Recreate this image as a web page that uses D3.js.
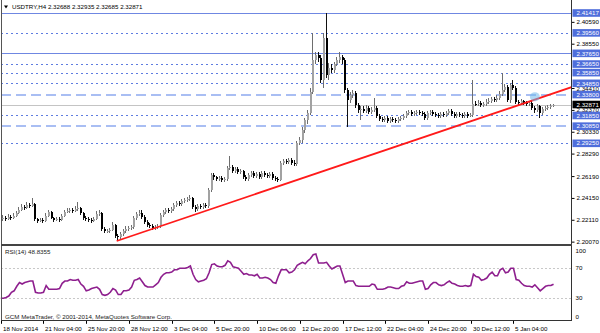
<!DOCTYPE html>
<html>
<head>
<meta charset="utf-8">
<script src="https://cdn.jsdelivr.net/npm/d3@7"></script>
<style>
  body { margin: 0; background: #fff; }
  svg { display: block; }
  text { font-family: "Liberation Sans", Arial, sans-serif; font-size: 6.2px; fill: #000; }
</style>
</head>
<body>
<div id="chart"></div>
<script>
// USDTRY H4 bars (open of each bar = previous close)
const symbolTitle = "USDTRY,H4 2.32688 2.32935 2.32685 2.32871";
const firstOpen = 2.2208;
const closes = [
  2.2218,2.2227,2.2218,2.2236,2.2227,2.2246,2.2274,2.2302,2.2330,2.2320,
  2.2348,2.2339,2.2358,2.2218,2.2199,2.2208,2.2199,2.2246,2.2283,2.2227,
  2.2208,2.2218,2.2208,2.2246,2.2283,2.2292,2.2302,2.2292,2.2311,2.2320,
  2.2274,2.2227,2.2218,2.2208,2.2199,2.2218,2.2264,2.2274,2.2124,2.2106,
  2.2106,2.2115,2.2162,2.2059,2.2049,2.2078,2.2106,2.2124,2.2134,2.2143,
  2.2227,2.2264,2.2274,2.2236,2.2190,2.2162,2.2152,2.2134,2.2143,2.2152,
  2.2255,2.2283,2.2302,2.2292,2.2311,2.2348,2.2367,2.2358,2.2386,2.2395,
  2.2404,2.2414,2.2330,2.2311,2.2339,2.2330,2.2348,2.2339,2.2488,2.2629,
  2.2610,2.2591,2.2601,2.2582,2.2591,2.2694,2.2703,2.2666,2.2685,2.2657,
  2.2666,2.2610,2.2591,2.2629,2.2647,2.2619,2.2638,2.2610,2.2647,2.2629,
  2.2619,2.2638,2.2601,2.2591,2.2582,2.2741,2.2759,2.2750,2.2769,2.2741,
  2.2731,2.2927,2.2955,2.3049,2.3142,2.3208,2.3404,2.3703,2.3749,2.3721,
  2.3516,2.3908,2.3563,2.3628,2.3609,2.3665,2.3703,2.3731,2.3703,2.3422,
  2.3329,2.3376,2.3394,2.3282,2.3236,2.3245,2.3226,2.3254,2.3217,2.3236,
  2.3254,2.3180,2.3152,2.3142,2.3161,2.3133,2.3152,2.3142,2.3133,2.3152,
  2.3161,2.3180,2.3208,2.3217,2.3198,2.3208,2.3217,2.3208,2.3198,2.3161,
  2.3208,2.3217,2.3198,2.3189,2.3180,2.3198,2.3189,2.3208,2.3226,2.3198,
  2.3180,2.3198,2.3189,2.3180,2.3198,2.3180,2.3189,2.3292,2.3290,2.3301,
  2.3282,2.3292,2.3310,2.3320,2.3338,2.3329,2.3348,2.3385,2.3422,2.3450,
  2.3329,2.3469,2.3441,2.3310,2.3301,2.3320,2.3301,2.3292,2.3301,2.3254,
  2.3236,2.3273,2.3208,2.3245,2.3254,2.3264,2.32688,2.32871
];
const highs = [
  2.2246,2.2255,2.2246,2.2264,2.2255,2.2274,2.2292,2.2330,2.2358,2.2348,
  2.2376,2.2367,2.2414,2.2367,2.2227,2.2227,2.2227,2.2274,2.2302,2.2292,
  2.2236,2.2236,2.2236,2.2264,2.2302,2.2320,2.2320,2.2320,2.2339,2.2376,
  2.2330,2.2283,2.2246,2.2236,2.2227,2.2236,2.2292,2.2302,2.2283,2.2143,
  2.2124,2.2134,2.2190,2.2171,2.2078,2.2096,2.2124,2.2152,2.2152,2.2162,
  2.2246,2.2283,2.2302,2.2302,2.2255,2.2208,2.2180,2.2171,2.2162,2.2171,
  2.2274,2.2302,2.2320,2.2320,2.2330,2.2367,2.2386,2.2386,2.2404,2.2414,
  2.2423,2.2442,2.2423,2.2348,2.2358,2.2358,2.2367,2.2367,2.2507,2.2647,
  2.2647,2.2619,2.2619,2.2619,2.2610,2.2713,2.2806,2.2722,2.2703,2.2703,
  2.2685,2.2675,2.2629,2.2647,2.2666,2.2666,2.2657,2.2657,2.2666,2.2666,
  2.2647,2.2657,2.2657,2.2619,2.2610,2.2759,2.2778,2.2778,2.2787,2.2787,
  2.2769,2.2946,2.2983,2.3077,2.3161,2.3236,2.3441,2.3955,2.3777,2.3777,
  2.3749,2.3955,2.41417,2.3675,2.3665,2.3684,2.3731,2.3777,2.3749,2.3721,
  2.3441,2.3404,2.3422,2.3413,2.3301,2.3273,2.3273,2.3282,2.3273,2.3264,
  2.3348,2.3273,2.3198,2.3170,2.3180,2.3180,2.3170,2.3170,2.3161,2.3170,
  2.3180,2.3198,2.3226,2.3236,2.3236,2.3226,2.3236,2.3236,2.3226,2.3217,
  2.3226,2.3236,2.3236,2.3217,2.3208,2.3217,2.3217,2.3226,2.3245,2.3245,
  2.3217,2.3217,2.3217,2.3208,2.3217,2.3217,2.3208,2.3516,2.3320,2.3329,
  2.3320,2.3310,2.3338,2.3348,2.3357,2.3357,2.3376,2.3413,2.3581,2.3478,
  2.3469,2.3488,2.3516,2.3460,2.3329,2.3338,2.3329,2.3320,2.3320,2.3320,
  2.3273,2.3292,2.3282,2.3264,2.3273,2.3282,2.3292,2.32935
];
const lows = [
  2.2190,2.2199,2.2199,2.2208,2.2208,2.2218,2.2236,2.2264,2.2292,2.2302,
  2.2311,2.2320,2.2330,2.2199,2.2180,2.2190,2.2180,2.2190,2.2236,2.2218,
  2.2190,2.2199,2.2190,2.2199,2.2236,2.2274,2.2274,2.2274,2.2283,2.2292,
  2.2255,2.2208,2.2199,2.2190,2.2180,2.2190,2.2208,2.2246,2.2106,2.2087,
  2.2087,2.2087,2.2106,2.2040,2.2012,2.2031,2.2059,2.2087,2.2106,2.2115,
  2.2124,2.2208,2.2246,2.2218,2.2171,2.2143,2.2134,2.2115,2.2115,2.2124,
  2.2134,2.2236,2.2264,2.2274,2.2274,2.2292,2.2330,2.2339,2.2339,2.2367,
  2.2376,2.2386,2.2311,2.2283,2.2292,2.2311,2.2311,2.2320,2.2320,2.2470,
  2.2582,2.2573,2.2573,2.2563,2.2563,2.2573,2.2675,2.2647,2.2647,2.2638,
  2.2638,2.2591,2.2573,2.2573,2.2610,2.2601,2.2601,2.2591,2.2591,2.2610,
  2.2601,2.2601,2.2582,2.2573,2.2563,2.2573,2.2722,2.2731,2.2731,2.2722,
  2.2713,2.2713,2.2909,2.2927,2.3021,2.3105,2.3189,2.3385,2.3665,2.3684,
  2.3488,2.3441,2.3535,2.3516,2.3581,2.3581,2.3647,2.3675,2.3665,2.3394,
  2.3077,2.3301,2.3348,2.3254,2.3208,2.3142,2.3208,2.3208,2.3198,2.3198,
  2.3217,2.3161,2.3133,2.3124,2.3124,2.3114,2.3114,2.3124,2.3114,2.3114,
  2.3133,2.3142,2.3161,2.3189,2.3180,2.3180,2.3189,2.3189,2.3180,2.3142,
  2.3142,2.3189,2.3180,2.3170,2.3161,2.3161,2.3170,2.3170,2.3189,2.3180,
  2.3161,2.3161,2.3170,2.3161,2.3161,2.3161,2.3170,2.3170,2.3273,2.3273,
  2.3264,2.3264,2.3273,2.3292,2.3301,2.3310,2.3310,2.3329,2.3366,2.3404,
  2.3310,2.3301,2.3422,2.3292,2.3282,2.3282,2.3282,2.3273,2.3273,2.3236,
  2.3208,2.3217,2.3161,2.3189,2.3226,2.3236,2.3245,2.32685
];
// RSI(14) per bar
const rsi = [
  30,30,31,33,38,40,46,51,49,51,
  52,53,53,38,37,37,38,47,42,42,
  42,42,43,50,53,53,55,54,54,55,
  49,46,40,41,43,44,45,42,35,34,
  35,38,43,41,35,35,40,40,41,45,
  54,55,57,52,47,45,45,45,48,51,
  58,62,64,64,65,68,68,70,70,70,
  71,73,62,55,52,53,54,56,64,75,
  76,73,72,72,74,80,78,72,71,70,
  66,62,63,61,61,60,62,57,57,58,
  57,55,51,50,60,68,68,68,64,65,
  68,74,76,78,76,80,83,88,89,77,
  77,77,78,73,69,71,73,73,62,51,
  53,53,53,47,46,46,46,46,46,49,
  48,42,42,42,43,45,45,44,43,43,
  46,47,52,50,50,51,52,53,53,42,
  43,48,51,51,48,47,48,51,53,50,
  49,47,46,46,47,46,47,62,59,58,
  54,55,57,62,65,60,60,68,70,64,
  65,70,70,55,54,50,47,46,46,45,
  48,44,40,43,46,47,47,48.8355
];
const rsiTitle = "RSI(14) 48.8355";
const rsiLevels = [70, 30];
const rsiTicks = [100, 70, 30, 0];

// horizontal line objects drawn on the chart
const solidLevels = [2.41417, 2.37650];
const dottedLevels = [2.39560, 2.36650, 2.35850, 2.34850, 2.31850, 2.29250];
const dashedLevels = [2.33800, 2.30850];
const lastPrice = 2.32871;
const trendLine = [{ bar: 43.4, price: 2.2013 }, { bar: 214, price: 2.3451 }];
const markPoint = { bar: 200, price: 2.3360 };

const priceTicks = [2.40590, 2.38550, 2.34410, 2.32370, 2.30330, 2.28290, 2.26190, 2.24150, 2.22110, 2.20070];
const timeTickBars = [0, 16, 32, 48, 64, 80, 96, 112, 128, 144, 160, 176, 192];
const timeLabels = ["18 Nov 2014", "21 Nov 04:00", "25 Nov 20:00", "28 Nov 12:00", "3 Dec 04:00", "5 Dec 20:00",
  "10 Dec 06:00", "12 Dec 20:00", "17 Dec 12:00", "22 Dec 04:00", "24 Dec 20:00", "30 Dec 12:00", "5 Jan 04:00"];
const copyright = "GCM MetaTrader, \u00a9 2001-2014, MetaQuotes Software Corp.";

const width = 600, height = 333;
const plotLeft = 1, plotRight = 571.5;
const mainTop = 0, mainBottom = 243.5;
const rsiTop = 245.8, rsiBottom = 320.8;

const bars = closes.map((c, i) => ({
    i: i,
    o: i === 0 ? firstOpen : closes[i - 1],
    h: highs[i], l: lows[i], c: c
}));

const svg = d3.select("#chart").append("svg")
    .attr("width", width)
    .attr("height", height);

const x = d3.scaleLinear().domain([0, 207]).range([0.77, 553.55]);
const y = d3.scaleLinear().domain([2.19942, 2.42257]).range([243, 4]);
const ry = d3.scaleLinear().domain([0, 100]).range([rsiBottom, rsiTop]);

svg.append("defs").append("clipPath").attr("id", "mainClip")
    .append("rect").attr("x", plotLeft).attr("y", mainTop)
    .attr("width", plotRight - plotLeft).attr("height", mainBottom - mainTop);

const main = svg.append("g").attr("clip-path", "url(#mainClip)");

// current price line
main.append("line")
    .attr("x1", plotLeft).attr("x2", plotRight)
    .attr("y1", Math.round(y(lastPrice)) + 0.5).attr("y2", Math.round(y(lastPrice)) + 0.5)
    .attr("stroke", "#c4c4c4");

// horizontal levels
main.selectAll(".solidLevel").data(solidLevels).join("line")
    .attr("x1", plotLeft).attr("x2", plotRight)
    .attr("y1", d => Math.round(y(d)) + 0.5).attr("y2", d => Math.round(y(d)) + 0.5)
    .attr("stroke", "#6f87e2").attr("stroke-width", 1);

main.selectAll(".dotLevel").data(dottedLevels).join("line")
    .attr("x1", plotLeft).attr("x2", plotRight)
    .attr("y1", d => Math.round(y(d)) + 0.5).attr("y2", d => Math.round(y(d)) + 0.5)
    .attr("stroke", "#5e7ce0").attr("stroke-width", 1)
    .attr("stroke-dasharray", "2,3");

main.selectAll(".dashLevel").data(dashedLevels).join("line")
    .attr("x1", plotLeft).attr("x2", plotRight)
    .attr("y1", d => Math.round(y(d))).attr("y2", d => Math.round(y(d)))
    .attr("stroke", "#a9bef3").attr("stroke-width", 2)
    .attr("stroke-dasharray", "10,5");

// candles
const candles = main.append("g").attr("shape-rendering", "crispEdges");
candles.selectAll("line").data(bars).join("line")
    .attr("x1", d => Math.round(x(d.i)) - 0.5)
    .attr("x2", d => Math.round(x(d.i)) - 0.5)
    .attr("y1", d => y(d.h))
    .attr("y2", d => y(d.l))
    .attr("stroke", d => d.c >= d.o ? "#6e6e6e" : "#111");

candles.selectAll("rect").data(bars).join("rect")
    .attr("x", d => Math.round(x(d.i)) - 1)
    .attr("width", 2)
    .attr("y", d => y(Math.max(d.o, d.c)))
    .attr("height", d => Math.max(1, Math.abs(y(d.o) - y(d.c))))
    .attr("fill", d => d.c >= d.o ? "#a2a2a2" : "#000");

// trend line
main.append("line")
    .attr("x1", x(trendLine[0].bar)).attr("y1", y(trendLine[0].price))
    .attr("x2", x(trendLine[1].bar)).attr("y2", y(trendLine[1].price))
    .attr("stroke", "#ff1a1a").attr("stroke-width", 1.8);

main.append("ellipse")
    .attr("cx", x(markPoint.bar)).attr("cy", y(markPoint.price))
    .attr("rx", 5).attr("ry", 4.5)
    .attr("fill", "#6fb8ea").attr("opacity", 0.55);

// title
svg.append("path")
    .attr("d", "M4,5.5 L8,5.5 L6,8.5 Z")
    .attr("fill", "#000");
svg.append("text").attr("x", 12).attr("y", 9.3).text(symbolTitle);

// right price axis
const priceAxis = svg.append("g")
    .attr("transform", `translate(${plotRight},0)`)
    .call(d3.axisRight(y).tickValues(priceTicks).tickFormat(d3.format(".5f")).tickSize(3).tickPadding(2));
priceAxis.select(".domain").remove();
priceAxis.selectAll("text").attr("font-size", null).attr("font-family", null);
priceAxis.selectAll("line").attr("stroke", "#000");

const allLevels = solidLevels.concat(dottedLevels, dashedLevels);
const levelTags = svg.selectAll(".levelTag").data(allLevels).join("g")
    .attr("transform", d => `translate(${plotRight + 1},${y(d)})`);
levelTags.append("rect")
    .attr("x", 0).attr("y", -3.8).attr("width", 27.5).attr("height", 7.6)
    .attr("fill", "#4f6edb");
levelTags.append("text")
    .attr("x", 4).attr("dy", "0.35em")
    .style("fill", "#fff")
    .text(d => d3.format(".5f")(d));

const priceTag = svg.append("g").attr("transform", `translate(${plotRight + 1},${y(lastPrice)})`);
priceTag.append("rect")
    .attr("x", 0).attr("y", -3.8).attr("width", 27.5).attr("height", 7.6)
    .attr("fill", "#000");
priceTag.append("text")
    .attr("x", 4).attr("dy", "0.35em")
    .style("fill", "#fff")
    .text(d3.format(".5f")(lastPrice));

// RSI panel
svg.selectAll(".rsiLevel").data(rsiLevels).join("line")
    .attr("x1", plotLeft).attr("x2", plotRight)
    .attr("y1", d => Math.round(ry(d)) + 0.5).attr("y2", d => Math.round(ry(d)) + 0.5)
    .attr("stroke", "#c8c8c8").attr("stroke-dasharray", "2,2");

svg.append("path")
    .datum(rsi)
    .attr("fill", "none")
    .attr("stroke", "#8e1f8e")
    .attr("stroke-width", 1.6)
    .attr("d", d3.line().x((d, i) => x(i)).y(d => ry(d)));

svg.append("text").attr("x", 5).attr("y", 254).style("fill", "#222").text(rsiTitle);
svg.append("text").attr("x", 5).attr("y", 318.5).style("fill", "#222").text(copyright);

const rsiAxis = svg.append("g")
    .attr("transform", `translate(${plotRight},0)`)
    .call(d3.axisRight(ry).tickValues(rsiTicks).tickSize(0).tickPadding(4));
rsiAxis.select(".domain").remove();
rsiAxis.selectAll("text").attr("font-size", null).attr("font-family", null);
rsiAxis.selectAll(".tick")
    .attr("transform", d => `translate(0,${Math.min(317, Math.max(251, ry(d)))})`);

// bottom time axis
const timeAxis = svg.append("g")
    .attr("transform", `translate(0,${rsiBottom})`)
    .call(d3.axisBottom(x).tickValues(timeTickBars).tickFormat((d, i) => timeLabels[i]).tickSize(3).tickPadding(3));
timeAxis.select(".domain").remove();
timeAxis.selectAll("text").attr("font-size", null).attr("font-family", null)
    .attr("text-anchor", "start").attr("dx", 1.5);
timeAxis.selectAll(".tick").attr("transform", d => `translate(${Math.max(1.5, Math.round(x(d)) + 0.5)},0)`);
timeAxis.selectAll("line").attr("stroke", "#000");

// frames
const frame = svg.append("g").attr("shape-rendering", "crispEdges");
frame.append("line").attr("x1", 1.5).attr("x2", 1.5).attr("y1", 0).attr("y2", rsiBottom).attr("stroke", "#555");
frame.append("line").attr("x1", plotRight).attr("x2", plotRight).attr("y1", 0).attr("y2", rsiBottom + 0.5).attr("stroke", "#333");
frame.append("line").attr("x1", 1).attr("x2", plotRight).attr("y1", 244.5).attr("y2", 244.5).attr("stroke", "#444").attr("stroke-width", 2);
frame.append("line").attr("x1", 1).attr("x2", plotRight).attr("y1", rsiBottom).attr("y2", rsiBottom).attr("stroke", "#333");
</script>
</body>
</html>
